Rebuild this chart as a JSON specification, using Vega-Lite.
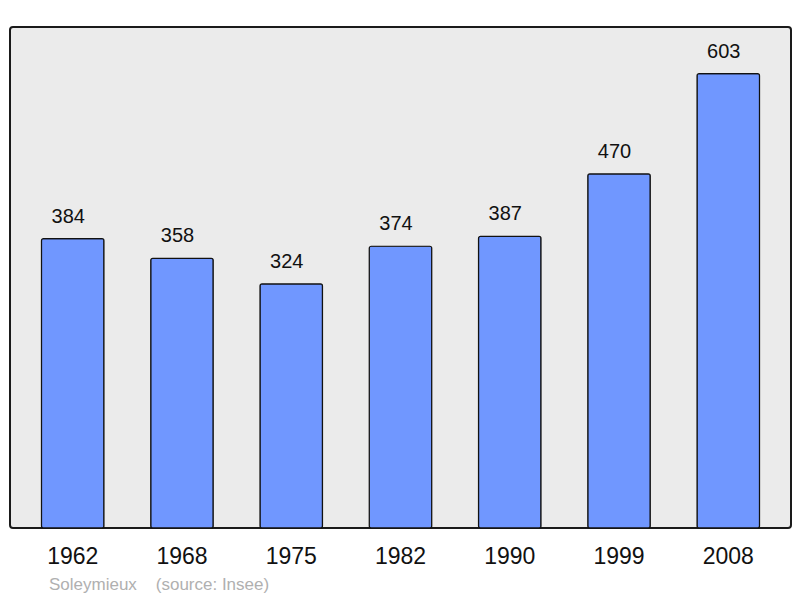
{
  "$schema": "https://vega.github.io/schema/vega-lite/v6.json",
  "width": 781,
  "height": 501,
  "autosize": {"type": "none"},
  "padding": {"left": 10, "top": 27, "right": 9, "bottom": 70},
  "background": "white",
  "data": {"values": [
    {"year": "1962", "pop": 384},
    {"year": "1968", "pop": 358},
    {"year": "1975", "pop": 324},
    {"year": "1982", "pop": 374},
    {"year": "1990", "pop": 387},
    {"year": "1999", "pop": 470},
    {"year": "2008", "pop": 603}
  ]},
  "title": {
    "text": "Soleymieux\u00a0\u00a0\u00a0\u00a0(source: Insee)",
    "orient": "bottom",
    "anchor": "start",
    "frame": "group",
    "dx": 39,
    "offset": 9,
    "font": "Liberation Sans",
    "fontSize": 17,
    "fontWeight": "normal",
    "color": "#b0b0b0"
  },
  "config": {
    "view": {"fill": "#ebebeb", "stroke": "#1a1a1a", "strokeWidth": 2, "cornerRadius": 3},
    "font": "Liberation Sans"
  },
  "encoding": {
    "x": {
      "field": "year", "type": "nominal", "sort": null,
      "scale": {"paddingInner": 0.428, "paddingOuter": 0.288},
      "axis": {"title": null, "ticks": false, "domain": false, "labelAngle": 0,
               "labelFontSize": 23, "labelColor": "#111", "labelPadding": 17,
               "labelFont": "Liberation Sans"}
    },
    "y": {
      "field": "pop", "type": "quantitative",
      "scale": {"domain": [0, 665], "nice": false},
      "axis": null
    }
  },
  "layer": [
    {"mark": {"type": "bar", "fill": "#7097ff", "stroke": "#111", "strokeWidth": 1.2, "cornerRadius": 2}},
    {"mark": {"type": "text", "baseline": "alphabetic", "dy": -16, "dx": -4.5, "fontSize": 20, "color": "#111", "font": "Liberation Sans"},
     "encoding": {"text": {"field": "pop", "type": "quantitative"}}}
  ]
}
